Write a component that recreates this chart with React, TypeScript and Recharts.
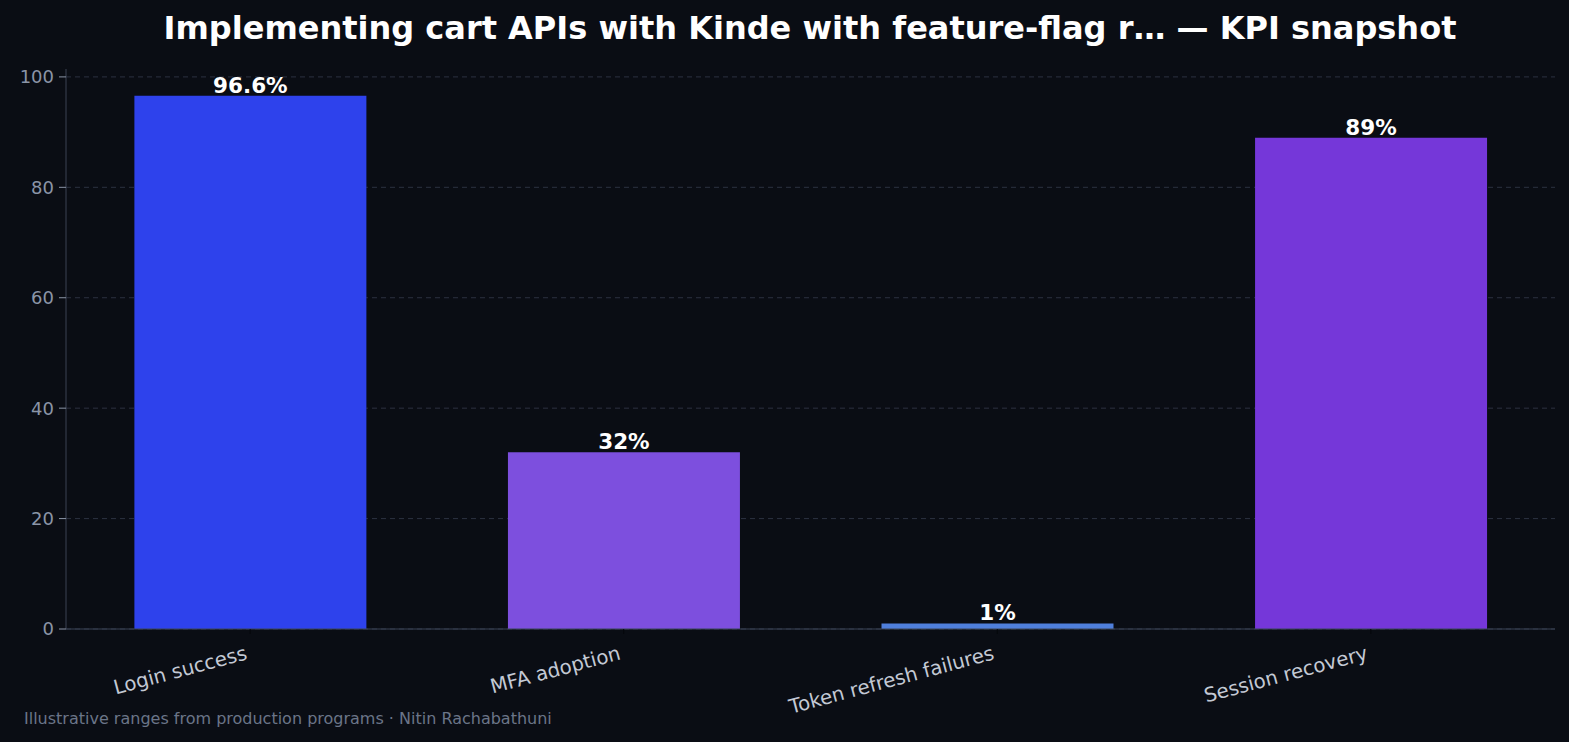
import { BarChart, Bar, XAxis, YAxis, CartesianGrid, Cell, LabelList } from 'recharts';

const categories = ['Login success', 'MFA adoption', 'Token refresh failures', 'Session recovery'];
const values = [96.6, 32, 1, 89];
const barColors = ['#2e42ec', '#7d4fde', '#4f7fdc', '#7537d9'];
const yTicks = [0, 20, 40, 60, 80, 100];
const xTicks = [0, 1, 2, 3];

const W = 1569;
const H = 742;
const BG = '#0a0d14';
const FONT = '"DejaVu Sans", sans-serif';

const data = categories.map((name, i) => ({ idx: i, name, value: values[i] }));

function XTick({ x, y, payload }: any) {
  return (
    <text
      transform={`translate(${x - 2},${y + 23}) rotate(-15)`}
      textAnchor="end"
      fill="#c3c9d4"
      fontSize={19.8}
      fontFamily={FONT}
    >
      {categories[payload.value]}
    </text>
  );
}

export default function App() {
  return (
    <div
      style={{
        position: 'absolute',
        left: 0,
        top: 0,
        width: W,
        height: H,
        background: BG,
        fontFamily: FONT,
      }}
    >
      <div
        style={{
          position: 'absolute',
          top: 10,
          left: 0,
          width: 1620,
          textAlign: 'center',
          color: '#ffffff',
          fontWeight: 'bold',
          fontSize: 32,
          lineHeight: '37px',
        }}
      >
        Implementing cart APIs with Kinde with feature-flag r… — KPI snapshot
      </div>
      <BarChart
        width={W}
        height={H}
        data={data}
        margin={{ top: 69, right: 14, bottom: 83, left: 6 }}
      >
        <CartesianGrid
          vertical={false}
          horizontalValues={yTicks}
          stroke="#2c3140"
          strokeDasharray="5 4"
        />
        <XAxis
          type="number"
          dataKey="idx"
          domain={[-0.493, 3.493]}
          ticks={xTicks}
          allowDataOverflow
          tick={<XTick />}
          interval={0}
          height={30}
          stroke="#3a4456"
          tickLine={{ stroke: '#05070b' }}
          tickSize={5}
        />
        <YAxis
          width={60}
          domain={[0, 101.43]}
          ticks={yTicks}
          allowDataOverflow
          stroke="#3a4252"
          tick={{ fill: '#8b95a7', fontSize: 18, fontFamily: FONT }}
          tickLine={{ stroke: '#8b95a7' }}
          tickSize={7}
          tickMargin={5}
        />
        <Bar dataKey="value" barSize={232} isAnimationActive={false}>
          {data.map((d, i) => (
            <Cell key={d.name} fill={barColors[i]} />
          ))}
          <LabelList
            dataKey="value"
            position="top"
            offset={3}
            formatter={(v: any) => `${v}%`}
            fill="#ffffff"
            fontSize={21.5}
            fontWeight="bold"
            fontFamily={FONT}
          />
        </Bar>
      </BarChart>
      <div
        style={{
          position: 'absolute',
          left: 24,
          top: 709,
          color: '#6b7588',
          fontSize: 16,
          lineHeight: '19px',
        }}
      >
        Illustrative ranges from production programs · Nitin Rachabathuni
      </div>
    </div>
  );
}
